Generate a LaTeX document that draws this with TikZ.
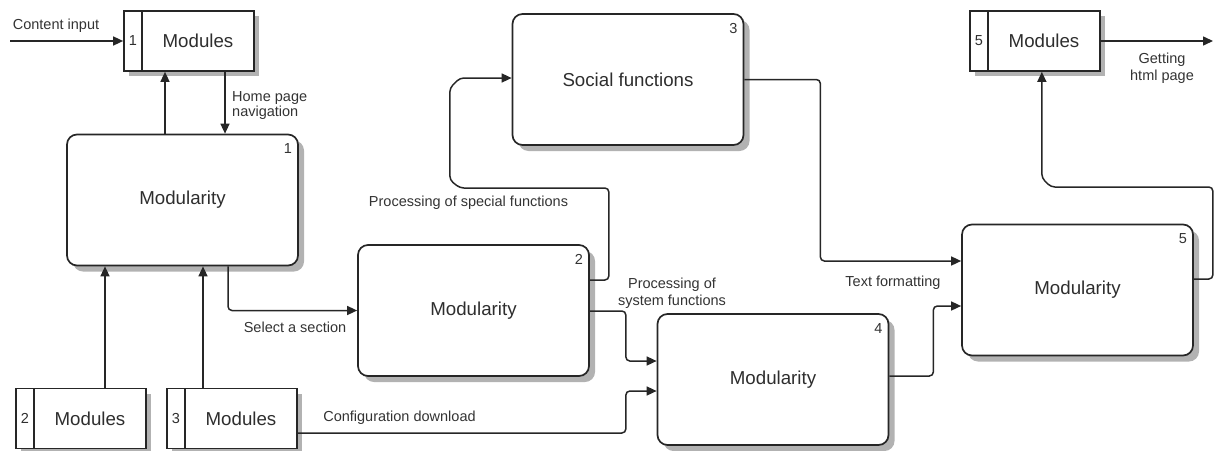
\documentclass[tikz,border=0pt]{standalone}
\usepackage{fontspec}
\setmainfont{Liberation Sans}
\usetikzlibrary{arrows.meta,shadows}

\tikzset{
  boxline/.style={draw=black!85, line width=1.7pt, fill=white, inner sep=0pt},
  shade5/.style={drop shadow={shadow xshift=5pt, shadow yshift=-5pt, fill=black!30, opacity=1}},
  tabbox/.style={boxline, shade5, rectangle, minimum width=18pt, minimum height=60pt,
    font=\fontsize{14.5}{17}\selectfont, text=black!82},
  bodybox/.style={boxline, shade5, rectangle, minimum width=112pt, minimum height=60pt,
    font=\fontsize{18.7}{22}\selectfont, text=black!82},
  funcbox/.style={boxline, rectangle, rounded corners=10pt, minimum width=231pt, minimum height=131pt,
    drop shadow={shadow xshift=6pt, shadow yshift=-6pt, fill=black!30, opacity=1},
    font=\fontsize{18.7}{22}\selectfont, text=black!82},
  small/.style={font=\fontsize{14.5}{17}\selectfont, text=black!80, inner sep=0pt},
  flow/.style={draw=black!85, line width=1.5pt, rounded corners=4pt,
    -{Triangle[length=10pt,width=9pt]}},
}

\begin{document}
\begin{tikzpicture}[x=1pt,y=-1pt]
\useasboundingbox (0,0) rectangle (1214,450);

% module blocks: numbered tab + body
\node[tabbox]  (m1t) at (133,41)  {1};
\node[bodybox] (m1)  at (198,41)  {Modules};
\node[tabbox]  (m2t) at (25,418.5)  {2};
\node[bodybox] (m2)  at (90,418.5)  {Modules};
\node[tabbox]  (m3t) at (176,418.5) {3};
\node[bodybox] (m3)  at (241,418.5) {Modules};
\node[tabbox]  (m5t) at (979,41)  {5};
\node[bodybox] (m5)  at (1044,41) {Modules};

% function blocks
\node[funcbox] (mod1) at (182.5,200)  {Modularity};
\node[funcbox] (mod2) at (473.5,310.5) {Modularity};
\node[funcbox] (soc)  at (628,79.5)   {Social functions};
\node[funcbox] (mod4) at (773,379.5)  {Modularity};
\node[funcbox] (mod5) at (1077.5,290) {Modularity};

\foreach \b/\n in {mod1/1, mod2/2, soc/3, mod4/4, mod5/5}
  \node[small] (\b num) at ([xshift=-11pt,yshift=-15pt]\b.north east) {\n};

% connectors
\coordinate (cin) at (10,41);
\draw[flow] (cin) -- (m1t.west);
\draw[flow] ([xshift=-17.5pt]mod1.north) coordinate (a1) -- (a1 |- m1.south);
\draw[flow] ([xshift=27pt]m1.south) coordinate (a2) -- (a2 |- mod1.north);
\draw[flow] ([xshift=15pt]m2.north) coordinate (a3) -- (a3 |- mod1.south);
\draw[flow] ([xshift=-38pt]m3.north) coordinate (a4) -- (a4 |- mod1.south);
\draw[flow] ([xshift=45.5pt]mod1.south) |- (mod2.west);
\draw[flow] ([yshift=-14.5pt]m3.east) -- ++(328,0) |- ([yshift=-11.5pt]mod4.west);
\draw[flow] ([yshift=-0.5pt]mod2.east) -- ++(36,0) |- ([yshift=18.5pt]mod4.west);
\draw[flow] ([yshift=30.5pt]mod2.east) -- ++(19,0) -- ++(0,-92)
  -- ++(-149,0) -- ++(-10,-8) -- ++(0,-92) -- ++(10,-10) coordinate (s1) -- (s1 -| soc.west);
\draw[flow] (soc.east) -- ++(76,0) |- ([yshift=29pt]mod5.west);
\draw[flow] ([yshift=3.5pt]mod4.east) -- ++(44,0) |- ([yshift=-16pt]mod5.west);
\draw[flow] ([yshift=11pt]mod5.east) -- ++(19,0) -- ++(0,-92)
  -- ++(-162,0) -- ++(-9,-9) coordinate (s3) -- (s3 |- m5.south);
\coordinate (hout) at (1213,41);
\draw[flow] (m5.east) -- (hout);

% connector labels
\node[small] (l1) at (56,26) {Content input};
\node[small, anchor=west, align=left, font=\fontsize{14.5}{15}\selectfont] (l2) at (232,105.5) {Home page\\navigation};
\node[small] (l3) at (295,327) {Select a section};
\node[small] (l4) at (399.5,418) {Configuration download};
\node[small] (l5) at (468.5,203) {Processing of special functions};
\node[small, align=center] (l6) at (672,293) {Processing of\\system functions};
\node[small] (l7) at (893,283) {Text formatting};
\node[small, align=center] (l8) at (1162,68.5) {Getting\\html page};
\end{tikzpicture}
\end{document}
